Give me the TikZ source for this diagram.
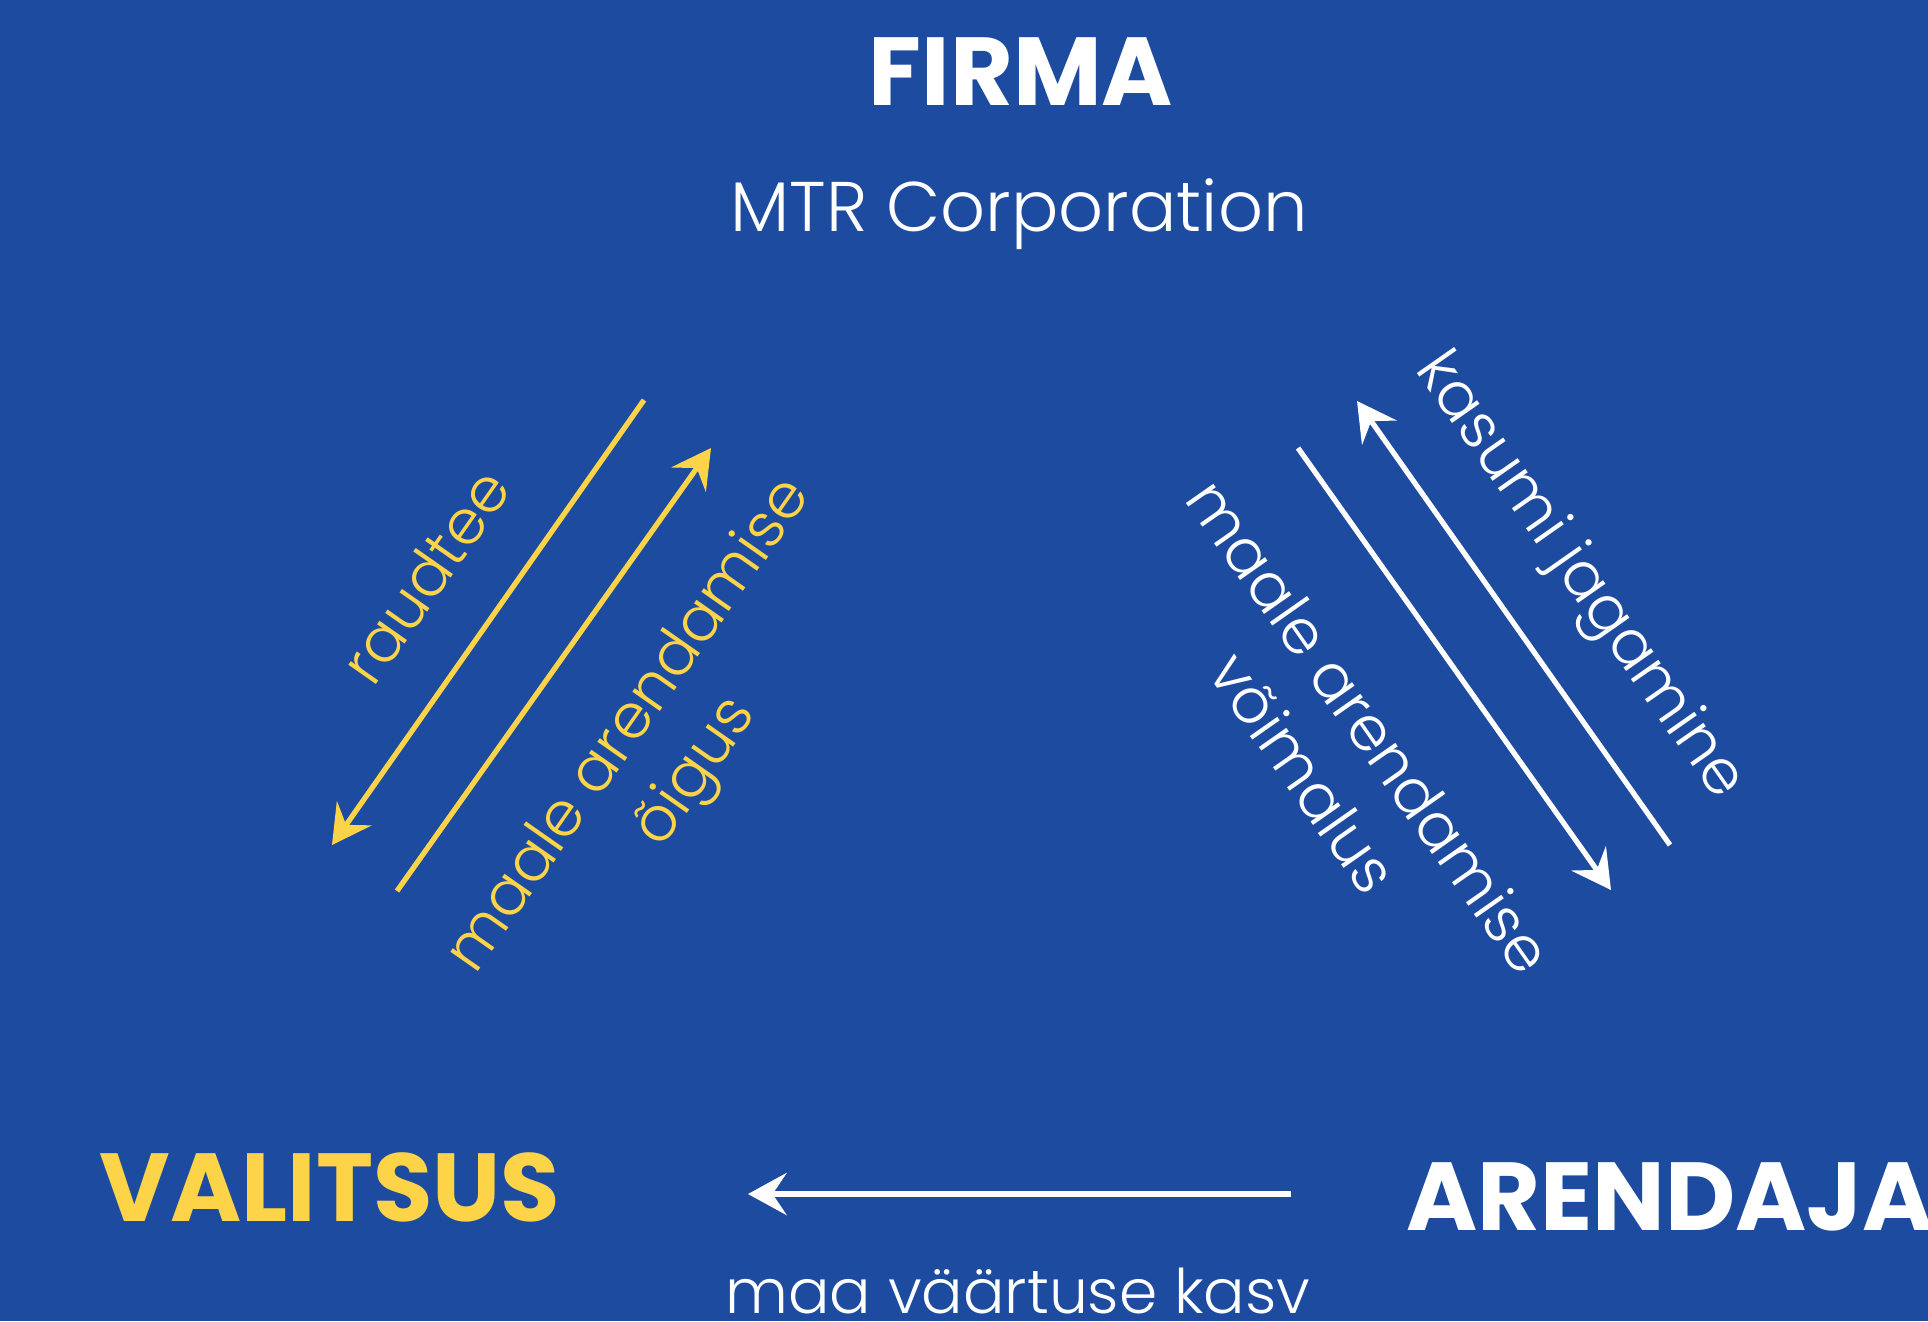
\documentclass[tikz,border=0pt]{standalone}
\usepackage{fontspec}
\setmainfont{Poppins}
\newfontfamily\thinfont{Poppins Light}
\usetikzlibrary{arrows.meta}
\definecolor{bgblue}{HTML}{1C4B9F}
\definecolor{gold}{HTML}{FDD448}
\tikzset{title/.style={font=\bfseries\fontsize{27.5}{32}\selectfont,anchor=base}}
\tikzset{txt/.style={font=\thinfont\fontsize{17.5}{23}\selectfont,align=center}}
\tikzset{flow/.style={line width=1.5pt,-{Stealth[length=11pt,width=12pt,inset=4pt]}}}

\begin{document}
\begin{tikzpicture}[x=1cm,y=-1cm]
		\fill[bgblue] (0,0) rectangle (19.28,13.21);
		\useasboundingbox (0,0) rectangle (19.28,13.21);
		\node[title,white] (firma) at (10.21,1.05) {FIRMA};
		\node[txt,white,anchor=base,font=\thinfont\fontsize{20}{24}\selectfont] (mtr) at (10.19,2.31) {MTR Corporation};
		\node[title,gold] (valitsus) at (3.30,12.21) {VALITSUS};
		\node[title,white] (arendaja) at (16.70,12.30) {ARENDAJA};
		\coordinate (a1) at (6.44,4.00); \coordinate (b1) at (3.32,8.45);
		\coordinate (a2) at (3.97,8.91); \coordinate (b2) at (7.11,4.48);
		\coordinate (a3) at (12.98,4.48); \coordinate (b3) at (16.11,8.90);
		\coordinate (a4) at (16.70,8.45); \coordinate (b4) at (13.57,4.01);
		\coordinate (a5) at (12.91,11.94); \coordinate (b5) at (7.48,11.94);
		\draw[flow,gold] (a1) -- (b1);
		\draw[flow,gold] (a2) -- (b2);
		\draw[flow,white] (a3) -- (b3);
		\draw[flow,white] (a4) -- (b4);
		\draw[flow,white] (a5) -- (b5);
		\node[txt,gold,rotate=55] (raudtee) at (4.25,5.76) {raudtee};
		\node[txt,gold,rotate=55] (oigus) at (6.64,7.50) {maale arendamise\\õigus};
		\node[txt,white,rotate=-55] (kasum) at (15.78,5.77) {kasumi jagamine};
		\node[txt,white,rotate=-55] (voimalus) at (13.37,7.49) {maale arendamise\\võimalus};
		\node[txt,white,anchor=base] (kasv) at (10.18,13.13) {maa väärtuse kasv};
\end{tikzpicture}
\end{document}
